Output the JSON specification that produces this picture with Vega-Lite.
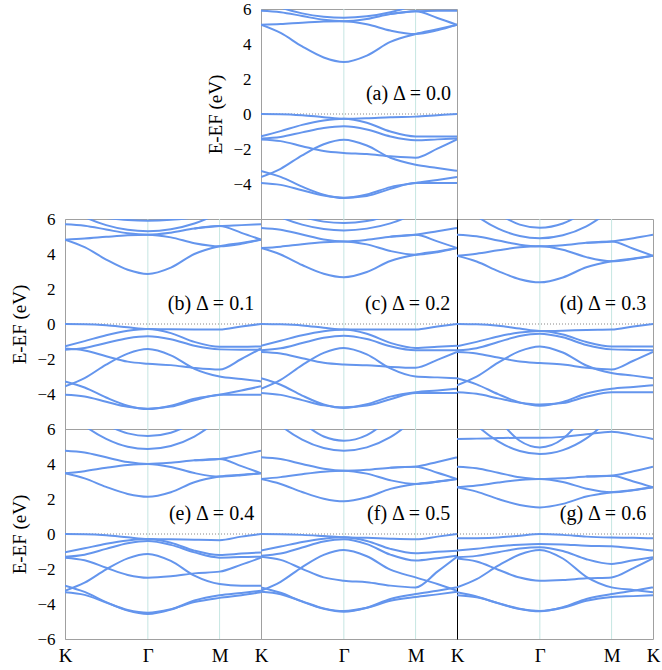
{
"$schema":"https://vega.github.io/schema/vega-lite/v6.json",
"padding":{"left":10,"top":-1,"right":5,"bottom":5},
"background":"white",
"config":{"view":{"stroke":"#a0a0a0","strokeWidth":1}},
"datasets":{
"a":[
{"b":"C1","k":0,"e":5.1},{"b":"C1","k":0.1,"e":4.63},{"b":"C1","k":0.21,"e":3.86},{"b":"C1","k":0.32,"e":3.23},{"b":"C1","k":0.4227,"e":2.97},{"b":"C1","k":0.54,"e":3.34},{"b":"C1","k":0.66,"e":4.12},{"b":"C1","k":0.7887,"e":4.57},{"b":"C1","k":0.9,"e":4.84},{"b":"C1","k":1,"e":5.1},
{"b":"C2","k":0,"e":5.1},{"b":"C2","k":0.1,"e":5.14},{"b":"C2","k":0.21,"e":5.22},{"b":"C2","k":0.32,"e":5.28},{"b":"C2","k":0.4227,"e":5.3},{"b":"C2","k":0.54,"e":5.13},{"b":"C2","k":0.66,"e":4.77},{"b":"C2","k":0.7887,"e":4.57},{"b":"C2","k":0.9,"e":4.78},{"b":"C2","k":1,"e":5.1},
{"b":"C3","k":0,"e":5.9},{"b":"C3","k":0.1,"e":5.82},{"b":"C3","k":0.21,"e":5.6},{"b":"C3","k":0.32,"e":5.38},{"b":"C3","k":0.4227,"e":5.3},{"b":"C3","k":0.54,"e":5.43},{"b":"C3","k":0.66,"e":5.71},{"b":"C3","k":0.7887,"e":5.87},{"b":"C3","k":0.9,"e":5.49},{"b":"C3","k":1,"e":5.1},
{"b":"C4","k":0,"e":6.5},{"b":"C4","k":0.1,"e":6.08},{"b":"C4","k":0.21,"e":5.75},{"b":"C4","k":0.32,"e":5.56},{"b":"C4","k":0.4227,"e":5.5},{"b":"C4","k":0.54,"e":5.58},{"b":"C4","k":0.66,"e":5.81},{"b":"C4","k":0.7887,"e":6.24},
{"b":"C5","k":0.66,"e":5.71},{"b":"C5","k":0.7887,"e":5.87},{"b":"C5","k":0.9,"e":5.9},{"b":"C5","k":1,"e":5.9},
{"b":"V1","k":0,"e":0},{"b":"V1","k":0.1,"e":-0.01},{"b":"V1","k":0.21,"e":-0.07},{"b":"V1","k":0.32,"e":-0.18},{"b":"V1","k":0.4227,"e":-0.27},{"b":"V1","k":0.54,"e":-0.24},{"b":"V1","k":0.66,"e":-0.18},{"b":"V1","k":0.7887,"e":-0.15},{"b":"V1","k":0.9,"e":-0.07},{"b":"V1","k":1,"e":0},
{"b":"V2","k":0,"e":-1.28},{"b":"V2","k":0.1,"e":-0.98},{"b":"V2","k":0.21,"e":-0.62},{"b":"V2","k":0.32,"e":-0.37},{"b":"V2","k":0.4227,"e":-0.27},{"b":"V2","k":0.54,"e":-0.5},{"b":"V2","k":0.66,"e":-1.0},{"b":"V2","k":0.7887,"e":-1.28},{"b":"V2","k":0.9,"e":-1.28},{"b":"V2","k":1,"e":-1.28},
{"b":"V3","k":0,"e":-1.4},{"b":"V3","k":0.1,"e":-1.31},{"b":"V3","k":0.21,"e":-1.05},{"b":"V3","k":0.32,"e":-0.8},{"b":"V3","k":0.4227,"e":-0.7},{"b":"V3","k":0.54,"e":-0.88},{"b":"V3","k":0.66,"e":-1.28},{"b":"V3","k":0.7887,"e":-1.5},{"b":"V3","k":0.9,"e":-1.45},{"b":"V3","k":1,"e":-1.4},
{"b":"V4","k":0,"e":-1.45},{"b":"V4","k":0.1,"e":-1.55},{"b":"V4","k":0.21,"e":-1.84},{"b":"V4","k":0.32,"e":-2.12},{"b":"V4","k":0.4227,"e":-2.23},{"b":"V4","k":0.54,"e":-2.29},{"b":"V4","k":0.66,"e":-2.42},{"b":"V4","k":0.7887,"e":-2.5},{"b":"V4","k":0.9,"e":-1.98},{"b":"V4","k":1,"e":-1.45},
{"b":"V5","k":0,"e":-3.6},{"b":"V5","k":0.1,"e":-3.13},{"b":"V5","k":0.21,"e":-2.36},{"b":"V5","k":0.32,"e":-1.73},{"b":"V5","k":0.4227,"e":-1.47},{"b":"V5","k":0.54,"e":-1.8},{"b":"V5","k":0.66,"e":-2.5},{"b":"V5","k":0.7887,"e":-2.9},{"b":"V5","k":0.9,"e":-3.08},{"b":"V5","k":1,"e":-3.25},
{"b":"V6","k":0,"e":-3.25},{"b":"V6","k":0.1,"e":-3.59},{"b":"V6","k":0.21,"e":-4.15},{"b":"V6","k":0.32,"e":-4.61},{"b":"V6","k":0.4227,"e":-4.8},{"b":"V6","k":0.54,"e":-4.6},{"b":"V6","k":0.66,"e":-4.18},{"b":"V6","k":0.7887,"e":-3.94},{"b":"V6","k":0.9,"e":-3.77},{"b":"V6","k":1,"e":-3.6},
{"b":"V7","k":0,"e":-3.94},{"b":"V7","k":0.1,"e":-4.05},{"b":"V7","k":0.21,"e":-4.36},{"b":"V7","k":0.32,"e":-4.66},{"b":"V7","k":0.4227,"e":-4.78},{"b":"V7","k":0.54,"e":-4.68},{"b":"V7","k":0.66,"e":-4.28},{"b":"V7","k":0.7887,"e":-3.94},{"b":"V7","k":0.9,"e":-3.94},{"b":"V7","k":1,"e":-3.94}
],
"b":[
{"b":"C1","k":0,"e":4.82},{"b":"C1","k":0.1,"e":4.39},{"b":"C1","k":0.21,"e":3.68},{"b":"C1","k":0.32,"e":3.1},{"b":"C1","k":0.4227,"e":2.86},{"b":"C1","k":0.54,"e":3.22},{"b":"C1","k":0.66,"e":4.0},{"b":"C1","k":0.7887,"e":4.44},{"b":"C1","k":0.9,"e":4.63},{"b":"C1","k":1,"e":4.82},
{"b":"C2","k":0,"e":4.82},{"b":"C2","k":0.1,"e":4.88},{"b":"C2","k":0.21,"e":4.98},{"b":"C2","k":0.32,"e":5.07},{"b":"C2","k":0.4227,"e":5.1},{"b":"C2","k":0.54,"e":4.95},{"b":"C2","k":0.66,"e":4.62},{"b":"C2","k":0.7887,"e":4.44},{"b":"C2","k":0.9,"e":4.58},{"b":"C2","k":1,"e":4.82},
{"b":"C3","k":0,"e":5.7},{"b":"C3","k":0.1,"e":5.62},{"b":"C3","k":0.21,"e":5.4},{"b":"C3","k":0.32,"e":5.18},{"b":"C3","k":0.4227,"e":5.1},{"b":"C3","k":0.54,"e":5.22},{"b":"C3","k":0.66,"e":5.46},{"b":"C3","k":0.7887,"e":5.6},{"b":"C3","k":0.9,"e":5.21},{"b":"C3","k":1,"e":4.82},
{"b":"C4","k":0,"e":6.69},{"b":"C4","k":0.1,"e":6.11},{"b":"C4","k":0.21,"e":5.65},{"b":"C4","k":0.32,"e":5.38},{"b":"C4","k":0.4227,"e":5.3},{"b":"C4","k":0.54,"e":5.41},{"b":"C4","k":0.66,"e":5.74},{"b":"C4","k":0.7887,"e":6.34},
{"b":"C5","k":0.66,"e":5.46},{"b":"C5","k":0.7887,"e":5.6},{"b":"C5","k":0.9,"e":5.65},{"b":"C5","k":1,"e":5.7},
{"b":"C6","k":0.21,"e":6.06},{"b":"C6","k":0.32,"e":5.94},{"b":"C6","k":0.4227,"e":5.9},{"b":"C6","k":0.54,"e":5.95},{"b":"C6","k":0.66,"e":6.09},
{"b":"V1","k":0,"e":0},{"b":"V1","k":0.1,"e":-0.01},{"b":"V1","k":0.21,"e":-0.07},{"b":"V1","k":0.32,"e":-0.19},{"b":"V1","k":0.4227,"e":-0.29},{"b":"V1","k":0.54,"e":-0.3},{"b":"V1","k":0.66,"e":-0.31},{"b":"V1","k":0.7887,"e":-0.32},{"b":"V1","k":0.9,"e":-0.14},{"b":"V1","k":1,"e":0},
{"b":"V2","k":0,"e":-1.28},{"b":"V2","k":0.1,"e":-0.98},{"b":"V2","k":0.21,"e":-0.64},{"b":"V2","k":0.32,"e":-0.39},{"b":"V2","k":0.4227,"e":-0.29},{"b":"V2","k":0.54,"e":-0.52},{"b":"V2","k":0.66,"e":-1.02},{"b":"V2","k":0.7887,"e":-1.3},{"b":"V2","k":0.9,"e":-1.3},{"b":"V2","k":1,"e":-1.28},
{"b":"V3","k":0,"e":-1.47},{"b":"V3","k":0.1,"e":-1.37},{"b":"V3","k":0.21,"e":-1.09},{"b":"V3","k":0.32,"e":-0.81},{"b":"V3","k":0.4227,"e":-0.7},{"b":"V3","k":0.54,"e":-0.87},{"b":"V3","k":0.66,"e":-1.24},{"b":"V3","k":0.7887,"e":-1.45},{"b":"V3","k":0.9,"e":-1.47},{"b":"V3","k":1,"e":-1.47},
{"b":"V4","k":0,"e":-1.4},{"b":"V4","k":0.1,"e":-1.51},{"b":"V4","k":0.21,"e":-1.84},{"b":"V4","k":0.32,"e":-2.15},{"b":"V4","k":0.4227,"e":-2.27},{"b":"V4","k":0.54,"e":-2.35},{"b":"V4","k":0.66,"e":-2.51},{"b":"V4","k":0.7887,"e":-2.6},{"b":"V4","k":0.9,"e":-2.0},{"b":"V4","k":1,"e":-1.4},
{"b":"V5","k":0,"e":-3.56},{"b":"V5","k":0.1,"e":-3.09},{"b":"V5","k":0.21,"e":-2.32},{"b":"V5","k":0.32,"e":-1.69},{"b":"V5","k":0.4227,"e":-1.43},{"b":"V5","k":0.54,"e":-1.79},{"b":"V5","k":0.66,"e":-2.56},{"b":"V5","k":0.7887,"e":-3.0},{"b":"V5","k":0.9,"e":-3.14},{"b":"V5","k":1,"e":-3.28},
{"b":"V6","k":0,"e":-3.28},{"b":"V6","k":0.1,"e":-3.63},{"b":"V6","k":0.21,"e":-4.2},{"b":"V6","k":0.32,"e":-4.67},{"b":"V6","k":0.4227,"e":-4.86},{"b":"V6","k":0.54,"e":-4.67},{"b":"V6","k":0.66,"e":-4.27},{"b":"V6","k":0.7887,"e":-4.04},{"b":"V6","k":0.9,"e":-3.8},{"b":"V6","k":1,"e":-3.56},
{"b":"V7","k":0,"e":-4.04},{"b":"V7","k":0.1,"e":-4.14},{"b":"V7","k":0.21,"e":-4.44},{"b":"V7","k":0.32,"e":-4.73},{"b":"V7","k":0.4227,"e":-4.84},{"b":"V7","k":0.54,"e":-4.72},{"b":"V7","k":0.66,"e":-4.36},{"b":"V7","k":0.7887,"e":-4.04},{"b":"V7","k":0.9,"e":-4.04},{"b":"V7","k":1,"e":-4.04}
],
"c":[
{"b":"C1","k":0,"e":4.34},{"b":"C1","k":0.1,"e":3.97},{"b":"C1","k":0.21,"e":3.37},{"b":"C1","k":0.32,"e":2.87},{"b":"C1","k":0.4227,"e":2.67},{"b":"C1","k":0.54,"e":2.97},{"b":"C1","k":0.66,"e":3.6},{"b":"C1","k":0.7887,"e":3.96},{"b":"C1","k":0.9,"e":4.15},{"b":"C1","k":1,"e":4.34},
{"b":"C2","k":0,"e":4.34},{"b":"C2","k":0.1,"e":4.42},{"b":"C2","k":0.21,"e":4.56},{"b":"C2","k":0.32,"e":4.67},{"b":"C2","k":0.4227,"e":4.72},{"b":"C2","k":0.54,"e":4.55},{"b":"C2","k":0.66,"e":4.17},{"b":"C2","k":0.7887,"e":3.96},{"b":"C2","k":0.9,"e":4.1},{"b":"C2","k":1,"e":4.34},
{"b":"C3","k":0,"e":5.49},{"b":"C3","k":0.1,"e":5.39},{"b":"C3","k":0.21,"e":5.11},{"b":"C3","k":0.32,"e":4.83},{"b":"C3","k":0.4227,"e":4.72},{"b":"C3","k":0.54,"e":4.81},{"b":"C3","k":0.66,"e":4.99},{"b":"C3","k":0.7887,"e":5.1},{"b":"C3","k":0.9,"e":4.72},{"b":"C3","k":1,"e":4.34},
{"b":"C4","k":0,"e":6.64},{"b":"C4","k":0.1,"e":6.1},{"b":"C4","k":0.21,"e":5.68},{"b":"C4","k":0.32,"e":5.43},{"b":"C4","k":0.4227,"e":5.35},{"b":"C4","k":0.54,"e":5.45},{"b":"C4","k":0.66,"e":5.75},{"b":"C4","k":0.7887,"e":6.32},
{"b":"C5","k":0.66,"e":4.99},{"b":"C5","k":0.7887,"e":5.1},{"b":"C5","k":0.9,"e":5.3},{"b":"C5","k":1,"e":5.49},
{"b":"C6","k":0.21,"e":6.13},{"b":"C6","k":0.32,"e":5.85},{"b":"C6","k":0.4227,"e":5.77},{"b":"C6","k":0.54,"e":5.88},{"b":"C6","k":0.66,"e":6.21},
{"b":"V1","k":0,"e":0},{"b":"V1","k":0.1,"e":-0.02},{"b":"V1","k":0.21,"e":-0.08},{"b":"V1","k":0.32,"e":-0.21},{"b":"V1","k":0.4227,"e":-0.32},{"b":"V1","k":0.54,"e":-0.32},{"b":"V1","k":0.66,"e":-0.32},{"b":"V1","k":0.7887,"e":-0.32},{"b":"V1","k":0.9,"e":-0.14},{"b":"V1","k":1,"e":0},
{"b":"V2","k":0,"e":-1.24},{"b":"V2","k":0.1,"e":-0.96},{"b":"V2","k":0.21,"e":-0.64},{"b":"V2","k":0.32,"e":-0.41},{"b":"V2","k":0.4227,"e":-0.32},{"b":"V2","k":0.54,"e":-0.56},{"b":"V2","k":0.66,"e":-1.08},{"b":"V2","k":0.7887,"e":-1.37},{"b":"V2","k":0.9,"e":-1.3},{"b":"V2","k":1,"e":-1.24},
{"b":"V3","k":0,"e":-1.5},{"b":"V3","k":0.1,"e":-1.39},{"b":"V3","k":0.21,"e":-1.09},{"b":"V3","k":0.32,"e":-0.79},{"b":"V3","k":0.4227,"e":-0.67},{"b":"V3","k":0.54,"e":-0.86},{"b":"V3","k":0.66,"e":-1.27},{"b":"V3","k":0.7887,"e":-1.5},{"b":"V3","k":0.9,"e":-1.5},{"b":"V3","k":1,"e":-1.5},
{"b":"V4","k":0,"e":-1.6},{"b":"V4","k":0.1,"e":-1.69},{"b":"V4","k":0.21,"e":-1.96},{"b":"V4","k":0.32,"e":-2.22},{"b":"V4","k":0.4227,"e":-2.32},{"b":"V4","k":0.54,"e":-2.36},{"b":"V4","k":0.66,"e":-2.45},{"b":"V4","k":0.7887,"e":-2.5},{"b":"V4","k":0.9,"e":-2.05},{"b":"V4","k":1,"e":-1.6},
{"b":"V5","k":0,"e":-3.7},{"b":"V5","k":0.1,"e":-3.19},{"b":"V5","k":0.21,"e":-2.35},{"b":"V5","k":0.32,"e":-1.65},{"b":"V5","k":0.4227,"e":-1.37},{"b":"V5","k":0.54,"e":-1.74},{"b":"V5","k":0.66,"e":-2.54},{"b":"V5","k":0.7887,"e":-3.0},{"b":"V5","k":0.9,"e":-3.05},{"b":"V5","k":1,"e":-3.1},
{"b":"V6","k":0,"e":-3.1},{"b":"V6","k":0.1,"e":-3.47},{"b":"V6","k":0.21,"e":-4.09},{"b":"V6","k":0.32,"e":-4.6},{"b":"V6","k":0.4227,"e":-4.8},{"b":"V6","k":0.54,"e":-4.59},{"b":"V6","k":0.66,"e":-4.15},{"b":"V6","k":0.7887,"e":-3.9},{"b":"V6","k":0.9,"e":-3.8},{"b":"V6","k":1,"e":-3.7},
{"b":"V7","k":0,"e":-3.94},{"b":"V7","k":0.1,"e":-4.05},{"b":"V7","k":0.21,"e":-4.35},{"b":"V7","k":0.32,"e":-4.65},{"b":"V7","k":0.4227,"e":-4.76},{"b":"V7","k":0.54,"e":-4.66},{"b":"V7","k":0.66,"e":-4.3},{"b":"V7","k":0.7887,"e":-3.94},{"b":"V7","k":0.9,"e":-3.94},{"b":"V7","k":1,"e":-3.94}
],
"d":[
{"b":"C1","k":0,"e":3.9},{"b":"C1","k":0.1,"e":3.57},{"b":"C1","k":0.21,"e":3.02},{"b":"C1","k":0.32,"e":2.56},{"b":"C1","k":0.4227,"e":2.38},{"b":"C1","k":0.54,"e":2.66},{"b":"C1","k":0.66,"e":3.24},{"b":"C1","k":0.7887,"e":3.58},{"b":"C1","k":0.9,"e":3.74},{"b":"C1","k":1,"e":3.9},
{"b":"C2","k":0,"e":3.9},{"b":"C2","k":0.1,"e":4.02},{"b":"C2","k":0.21,"e":4.21},{"b":"C2","k":0.32,"e":4.38},{"b":"C2","k":0.4227,"e":4.44},{"b":"C2","k":0.54,"e":4.24},{"b":"C2","k":0.66,"e":3.82},{"b":"C2","k":0.7887,"e":3.58},{"b":"C2","k":0.9,"e":3.72},{"b":"C2","k":1,"e":3.9},
{"b":"C3","k":0,"e":5.1},{"b":"C3","k":0.1,"e":5.01},{"b":"C3","k":0.21,"e":4.77},{"b":"C3","k":0.32,"e":4.53},{"b":"C3","k":0.4227,"e":4.44},{"b":"C3","k":0.54,"e":4.5},{"b":"C3","k":0.66,"e":4.64},{"b":"C3","k":0.7887,"e":4.72},{"b":"C3","k":0.9,"e":4.3},{"b":"C3","k":1,"e":3.9},
{"b":"C4","k":0,"e":7.08},{"b":"C4","k":0.1,"e":6.17},{"b":"C4","k":0.21,"e":5.45},{"b":"C4","k":0.32,"e":5.03},{"b":"C4","k":0.4227,"e":4.9},{"b":"C4","k":0.54,"e":5.07},{"b":"C4","k":0.66,"e":5.58},{"b":"C4","k":0.7887,"e":6.54},
{"b":"C5","k":0.66,"e":4.64},{"b":"C5","k":0.7887,"e":4.72},{"b":"C5","k":0.9,"e":4.9},{"b":"C5","k":1,"e":5.1},
{"b":"C6","k":0.21,"e":6.28},{"b":"C6","k":0.32,"e":5.68},{"b":"C6","k":0.4227,"e":5.5},{"b":"C6","k":0.54,"e":5.74},{"b":"C6","k":0.66,"e":6.46},
{"b":"V1","k":0,"e":0},{"b":"V1","k":0.1,"e":-0.02},{"b":"V1","k":0.21,"e":-0.1},{"b":"V1","k":0.32,"e":-0.26},{"b":"V1","k":0.4227,"e":-0.4},{"b":"V1","k":0.54,"e":-0.38},{"b":"V1","k":0.66,"e":-0.34},{"b":"V1","k":0.7887,"e":-0.32},{"b":"V1","k":0.9,"e":-0.14},{"b":"V1","k":1,"e":0},
{"b":"V2","k":0,"e":-1.28},{"b":"V2","k":0.1,"e":-1.02},{"b":"V2","k":0.21,"e":-0.71},{"b":"V2","k":0.32,"e":-0.49},{"b":"V2","k":0.4227,"e":-0.4},{"b":"V2","k":0.54,"e":-0.6},{"b":"V2","k":0.66,"e":-1.03},{"b":"V2","k":0.7887,"e":-1.28},{"b":"V2","k":0.9,"e":-1.28},{"b":"V2","k":1,"e":-1.28},
{"b":"V3","k":0,"e":-1.5},{"b":"V3","k":0.1,"e":-1.38},{"b":"V3","k":0.21,"e":-1.03},{"b":"V3","k":0.32,"e":-0.68},{"b":"V3","k":0.4227,"e":-0.55},{"b":"V3","k":0.54,"e":-0.76},{"b":"V3","k":0.66,"e":-1.2},{"b":"V3","k":0.7887,"e":-1.45},{"b":"V3","k":0.9,"e":-1.48},{"b":"V3","k":1,"e":-1.5},
{"b":"V4","k":0,"e":-1.6},{"b":"V4","k":0.1,"e":-1.68},{"b":"V4","k":0.21,"e":-1.92},{"b":"V4","k":0.32,"e":-2.14},{"b":"V4","k":0.4227,"e":-2.23},{"b":"V4","k":0.54,"e":-2.32},{"b":"V4","k":0.66,"e":-2.5},{"b":"V4","k":0.7887,"e":-2.6},{"b":"V4","k":0.9,"e":-2.1},{"b":"V4","k":1,"e":-1.6},
{"b":"V5","k":0,"e":-3.5},{"b":"V5","k":0.1,"e":-3.01},{"b":"V5","k":0.21,"e":-2.21},{"b":"V5","k":0.32,"e":-1.55},{"b":"V5","k":0.4227,"e":-1.28},{"b":"V5","k":0.54,"e":-1.63},{"b":"V5","k":0.66,"e":-2.37},{"b":"V5","k":0.7887,"e":-2.8},{"b":"V5","k":0.9,"e":-2.95},{"b":"V5","k":1,"e":-3.1},
{"b":"V6","k":0,"e":-3.1},{"b":"V6","k":0.1,"e":-3.45},{"b":"V6","k":0.21,"e":-4.01},{"b":"V6","k":0.32,"e":-4.48},{"b":"V6","k":0.4227,"e":-4.67},{"b":"V6","k":0.54,"e":-4.45},{"b":"V6","k":0.66,"e":-3.97},{"b":"V6","k":0.7887,"e":-3.7},{"b":"V6","k":0.9,"e":-3.6},{"b":"V6","k":1,"e":-3.5},
{"b":"V7","k":0,"e":-3.9},{"b":"V7","k":0.1,"e":-3.99},{"b":"V7","k":0.21,"e":-4.25},{"b":"V7","k":0.32,"e":-4.5},{"b":"V7","k":0.4227,"e":-4.6},{"b":"V7","k":0.54,"e":-4.52},{"b":"V7","k":0.66,"e":-4.16},{"b":"V7","k":0.7887,"e":-3.9},{"b":"V7","k":0.9,"e":-3.9},{"b":"V7","k":1,"e":-3.9}
],
"e":[
{"b":"C1","k":0,"e":3.47},{"b":"C1","k":0.1,"e":3.18},{"b":"C1","k":0.21,"e":2.69},{"b":"C1","k":0.32,"e":2.29},{"b":"C1","k":0.4227,"e":2.13},{"b":"C1","k":0.54,"e":2.39},{"b":"C1","k":0.66,"e":2.96},{"b":"C1","k":0.7887,"e":3.28},{"b":"C1","k":0.9,"e":3.38},{"b":"C1","k":1,"e":3.47},
{"b":"C2","k":0,"e":3.47},{"b":"C2","k":0.1,"e":3.59},{"b":"C2","k":0.21,"e":3.78},{"b":"C2","k":0.32,"e":3.94},{"b":"C2","k":0.4227,"e":4.0},{"b":"C2","k":0.54,"e":3.83},{"b":"C2","k":0.66,"e":3.48},{"b":"C2","k":0.7887,"e":3.28},{"b":"C2","k":0.9,"e":3.36},{"b":"C2","k":1,"e":3.47},
{"b":"C3","k":0,"e":4.76},{"b":"C3","k":0.1,"e":4.66},{"b":"C3","k":0.21,"e":4.38},{"b":"C3","k":0.32,"e":4.11},{"b":"C3","k":0.4227,"e":4.0},{"b":"C3","k":0.54,"e":4.07},{"b":"C3","k":0.66,"e":4.21},{"b":"C3","k":0.7887,"e":4.29},{"b":"C3","k":0.9,"e":3.88},{"b":"C3","k":1,"e":3.47},
{"b":"C4","k":0,"e":7.13},{"b":"C4","k":0.1,"e":6.18},{"b":"C4","k":0.21,"e":5.44},{"b":"C4","k":0.32,"e":4.99},{"b":"C4","k":0.4227,"e":4.86},{"b":"C4","k":0.54,"e":5.03},{"b":"C4","k":0.66,"e":5.57},{"b":"C4","k":0.7887,"e":6.56},
{"b":"C5","k":0.66,"e":4.21},{"b":"C5","k":0.7887,"e":4.29},{"b":"C5","k":0.9,"e":4.52},{"b":"C5","k":1,"e":4.76},
{"b":"C6","k":0.21,"e":6.23},{"b":"C6","k":0.32,"e":5.75},{"b":"C6","k":0.4227,"e":5.6},{"b":"C6","k":0.54,"e":5.79},{"b":"C6","k":0.66,"e":6.37},
{"b":"V1","k":0,"e":0},{"b":"V1","k":0.1,"e":-0.01},{"b":"V1","k":0.21,"e":-0.07},{"b":"V1","k":0.32,"e":-0.19},{"b":"V1","k":0.4227,"e":-0.29},{"b":"V1","k":0.54,"e":-0.3},{"b":"V1","k":0.66,"e":-0.33},{"b":"V1","k":0.7887,"e":-0.35},{"b":"V1","k":0.9,"e":-0.15},{"b":"V1","k":1,"e":0},
{"b":"V2","k":0,"e":-1.05},{"b":"V2","k":0.1,"e":-0.82},{"b":"V2","k":0.21,"e":-0.56},{"b":"V2","k":0.32,"e":-0.37},{"b":"V2","k":0.4227,"e":-0.29},{"b":"V2","k":0.54,"e":-0.5},{"b":"V2","k":0.66,"e":-0.95},{"b":"V2","k":0.7887,"e":-1.2},{"b":"V2","k":0.9,"e":-1.12},{"b":"V2","k":1,"e":-1.05},
{"b":"V3","k":0,"e":-1.3},{"b":"V3","k":0.1,"e":-1.18},{"b":"V3","k":0.21,"e":-0.85},{"b":"V3","k":0.32,"e":-0.53},{"b":"V3","k":0.4227,"e":-0.4},{"b":"V3","k":0.54,"e":-0.62},{"b":"V3","k":0.66,"e":-1.05},{"b":"V3","k":0.7887,"e":-1.35},{"b":"V3","k":0.9,"e":-1.32},{"b":"V3","k":1,"e":-1.3},
{"b":"V4","k":0,"e":-1.35},{"b":"V4","k":0.1,"e":-1.5},{"b":"V4","k":0.21,"e":-1.93},{"b":"V4","k":0.32,"e":-2.34},{"b":"V4","k":0.4227,"e":-2.5},{"b":"V4","k":0.54,"e":-2.42},{"b":"V4","k":0.66,"e":-2.25},{"b":"V4","k":0.7887,"e":-2.15},{"b":"V4","k":0.9,"e":-1.75},{"b":"V4","k":1,"e":-1.35},
{"b":"V5","k":0,"e":-3.24},{"b":"V5","k":0.1,"e":-2.78},{"b":"V5","k":0.21,"e":-2.02},{"b":"V5","k":0.32,"e":-1.39},{"b":"V5","k":0.4227,"e":-1.14},{"b":"V5","k":0.54,"e":-1.54},{"b":"V5","k":0.66,"e":-2.38},{"b":"V5","k":0.7887,"e":-2.86},{"b":"V5","k":0.9,"e":-2.95},{"b":"V5","k":1,"e":-2.95},
{"b":"V6","k":0,"e":-2.95},{"b":"V6","k":0.1,"e":-3.31},{"b":"V6","k":0.21,"e":-3.89},{"b":"V6","k":0.32,"e":-4.38},{"b":"V6","k":0.4227,"e":-4.57},{"b":"V6","k":0.54,"e":-4.32},{"b":"V6","k":0.66,"e":-3.8},{"b":"V6","k":0.7887,"e":-3.5},{"b":"V6","k":0.9,"e":-3.37},{"b":"V6","k":1,"e":-3.24},
{"b":"V7","k":0,"e":-3.33},{"b":"V7","k":0.1,"e":-3.48},{"b":"V7","k":0.21,"e":-3.92},{"b":"V7","k":0.32,"e":-4.34},{"b":"V7","k":0.4227,"e":-4.5},{"b":"V7","k":0.54,"e":-4.3},{"b":"V7","k":0.66,"e":-3.89},{"b":"V7","k":0.7887,"e":-3.65},{"b":"V7","k":0.9,"e":-3.5},{"b":"V7","k":1,"e":-3.33}
],
"f":[
{"b":"C1","k":0,"e":3.14},{"b":"C1","k":0.1,"e":2.86},{"b":"C1","k":0.21,"e":2.4},{"b":"C1","k":0.32,"e":2.02},{"b":"C1","k":0.4227,"e":1.87},{"b":"C1","k":0.54,"e":2.1},{"b":"C1","k":0.66,"e":2.58},{"b":"C1","k":0.7887,"e":2.86},{"b":"C1","k":0.9,"e":3.0},{"b":"C1","k":1,"e":3.14},
{"b":"C2","k":0,"e":3.14},{"b":"C2","k":0.1,"e":3.25},{"b":"C2","k":0.21,"e":3.42},{"b":"C2","k":0.32,"e":3.56},{"b":"C2","k":0.4227,"e":3.62},{"b":"C2","k":0.54,"e":3.45},{"b":"C2","k":0.66,"e":3.07},{"b":"C2","k":0.7887,"e":2.86},{"b":"C2","k":0.9,"e":2.98},{"b":"C2","k":1,"e":3.14},
{"b":"C3","k":0,"e":4.38},{"b":"C3","k":0.1,"e":4.28},{"b":"C3","k":0.21,"e":4.0},{"b":"C3","k":0.32,"e":3.73},{"b":"C3","k":0.4227,"e":3.62},{"b":"C3","k":0.54,"e":3.67},{"b":"C3","k":0.66,"e":3.79},{"b":"C3","k":0.7887,"e":3.85},{"b":"C3","k":0.9,"e":3.5},{"b":"C3","k":1,"e":3.14},
{"b":"C4","k":0,"e":7.23},{"b":"C4","k":0.1,"e":6.2},{"b":"C4","k":0.21,"e":5.39},{"b":"C4","k":0.32,"e":4.91},{"b":"C4","k":0.4227,"e":4.76},{"b":"C4","k":0.54,"e":4.95},{"b":"C4","k":0.66,"e":5.53},{"b":"C4","k":0.7887,"e":6.61},
{"b":"C5","k":0.66,"e":3.79},{"b":"C5","k":0.7887,"e":3.85},{"b":"C5","k":0.9,"e":4.12},{"b":"C5","k":1,"e":4.38},
{"b":"C6","k":0.21,"e":6.37},{"b":"C6","k":0.32,"e":5.57},{"b":"C6","k":0.4227,"e":5.33},{"b":"C6","k":0.54,"e":5.65},{"b":"C6","k":0.66,"e":6.62},
{"b":"V1","k":0,"e":0},{"b":"V1","k":0.1,"e":-0.01},{"b":"V1","k":0.21,"e":-0.05},{"b":"V1","k":0.32,"e":-0.12},{"b":"V1","k":0.4227,"e":-0.19},{"b":"V1","k":0.54,"e":-0.22},{"b":"V1","k":0.66,"e":-0.27},{"b":"V1","k":0.7887,"e":-0.3},{"b":"V1","k":0.9,"e":-0.15},{"b":"V1","k":1,"e":0},
{"b":"V2","k":0,"e":-0.95},{"b":"V2","k":0.1,"e":-0.72},{"b":"V2","k":0.21,"e":-0.46},{"b":"V2","k":0.32,"e":-0.27},{"b":"V2","k":0.4227,"e":-0.19},{"b":"V2","k":0.54,"e":-0.4},{"b":"V2","k":0.66,"e":-0.85},{"b":"V2","k":0.7887,"e":-1.1},{"b":"V2","k":0.9,"e":-1.02},{"b":"V2","k":1,"e":-0.95},
{"b":"V3","k":0,"e":-1.24},{"b":"V3","k":0.1,"e":-1.12},{"b":"V3","k":0.21,"e":-0.77},{"b":"V3","k":0.32,"e":-0.43},{"b":"V3","k":0.4227,"e":-0.3},{"b":"V3","k":0.54,"e":-0.58},{"b":"V3","k":0.66,"e":-1.18},{"b":"V3","k":0.7887,"e":-1.52},{"b":"V3","k":0.9,"e":-1.38},{"b":"V3","k":1,"e":-1.24},
{"b":"V4","k":0,"e":-1.3},{"b":"V4","k":0.1,"e":-1.48},{"b":"V4","k":0.21,"e":-1.99},{"b":"V4","k":0.32,"e":-2.48},{"b":"V4","k":0.4227,"e":-2.67},{"b":"V4","k":0.54,"e":-2.76},{"b":"V4","k":0.66,"e":-2.95},{"b":"V4","k":0.7887,"e":-3.05},{"b":"V4","k":0.9,"e":-2.15},{"b":"V4","k":1,"e":-1.3},
{"b":"V5","k":0,"e":-3.24},{"b":"V5","k":0.1,"e":-2.73},{"b":"V5","k":0.21,"e":-1.89},{"b":"V5","k":0.32,"e":-1.19},{"b":"V5","k":0.4227,"e":-0.91},{"b":"V5","k":0.54,"e":-1.27},{"b":"V5","k":0.66,"e":-2.04},{"b":"V5","k":0.7887,"e":-2.48},{"b":"V5","k":0.9,"e":-2.86},{"b":"V5","k":1,"e":-3.24},
{"b":"V6","k":0,"e":-3.05},{"b":"V6","k":0.1,"e":-3.36},{"b":"V6","k":0.21,"e":-3.86},{"b":"V6","k":0.32,"e":-4.27},{"b":"V6","k":0.4227,"e":-4.44},{"b":"V6","k":0.54,"e":-4.21},{"b":"V6","k":0.66,"e":-3.71},{"b":"V6","k":0.7887,"e":-3.43},{"b":"V6","k":0.9,"e":-3.24},{"b":"V6","k":1,"e":-3.05},
{"b":"V7","k":0,"e":-3.3},{"b":"V7","k":0.1,"e":-3.44},{"b":"V7","k":0.21,"e":-3.85},{"b":"V7","k":0.32,"e":-4.25},{"b":"V7","k":0.4227,"e":-4.4},{"b":"V7","k":0.54,"e":-4.22},{"b":"V7","k":0.66,"e":-3.82},{"b":"V7","k":0.7887,"e":-3.6},{"b":"V7","k":0.9,"e":-3.45},{"b":"V7","k":1,"e":-3.3}
],
"g":[
{"b":"C1","k":0,"e":2.67},{"b":"C1","k":0.1,"e":2.42},{"b":"C1","k":0.21,"e":2.0},{"b":"C1","k":0.32,"e":1.66},{"b":"C1","k":0.4227,"e":1.52},{"b":"C1","k":0.54,"e":1.72},{"b":"C1","k":0.66,"e":2.14},{"b":"C1","k":0.7887,"e":2.38},{"b":"C1","k":0.9,"e":2.52},{"b":"C1","k":1,"e":2.67},
{"b":"C2","k":0,"e":2.67},{"b":"C2","k":0.1,"e":2.77},{"b":"C2","k":0.21,"e":2.94},{"b":"C2","k":0.32,"e":3.08},{"b":"C2","k":0.4227,"e":3.14},{"b":"C2","k":0.54,"e":2.97},{"b":"C2","k":0.66,"e":2.59},{"b":"C2","k":0.7887,"e":2.38},{"b":"C2","k":0.9,"e":2.5},{"b":"C2","k":1,"e":2.67},
{"b":"C3","k":0,"e":3.85},{"b":"C3","k":0.1,"e":3.76},{"b":"C3","k":0.21,"e":3.5},{"b":"C3","k":0.32,"e":3.24},{"b":"C3","k":0.4227,"e":3.14},{"b":"C3","k":0.54,"e":3.18},{"b":"C3","k":0.66,"e":3.28},{"b":"C3","k":0.7887,"e":3.33},{"b":"C3","k":0.9,"e":3.0},{"b":"C3","k":1,"e":2.67},
{"b":"C4","k":0,"e":7.42},{"b":"C4","k":0.1,"e":6.22},{"b":"C4","k":0.21,"e":5.29},{"b":"C4","k":0.32,"e":4.74},{"b":"C4","k":0.4227,"e":4.57},{"b":"C4","k":0.54,"e":4.79},{"b":"C4","k":0.66,"e":5.46},{"b":"C4","k":0.7887,"e":6.7},
{"b":"C5","k":0.66,"e":3.28},{"b":"C5","k":0.7887,"e":3.33},{"b":"C5","k":0.9,"e":3.59},{"b":"C5","k":1,"e":3.85},
{"b":"C6","k":0.21,"e":6.58},{"b":"C6","k":0.32,"e":5.33},{"b":"C6","k":0.4227,"e":4.95},{"b":"C6","k":0.54,"e":5.44},{"b":"C6","k":0.66,"e":6.95},
{"b":"C7","k":0,"e":5.43},{"b":"C7","k":0.1,"e":5.45},{"b":"C7","k":0.21,"e":5.48},{"b":"C7","k":0.32,"e":5.5},{"b":"C7","k":0.4227,"e":5.5},{"b":"C7","k":0.54,"e":5.55},{"b":"C7","k":0.66,"e":5.7},{"b":"C7","k":0.7887,"e":5.85},{"b":"C7","k":0.9,"e":5.65},{"b":"C7","k":1,"e":5.43},
{"b":"V1","k":0,"e":-0.25},{"b":"V1","k":0.1,"e":-0.24},{"b":"V1","k":0.21,"e":-0.2},{"b":"V1","k":0.32,"e":-0.1},{"b":"V1","k":0.4227,"e":0},{"b":"V1","k":0.54,"e":-0.05},{"b":"V1","k":0.66,"e":-0.15},{"b":"V1","k":0.7887,"e":-0.2},{"b":"V1","k":0.9,"e":-0.22},{"b":"V1","k":1,"e":-0.25},
{"b":"V2","k":0,"e":-0.95},{"b":"V2","k":0.1,"e":-0.84},{"b":"V2","k":0.21,"e":-0.7},{"b":"V2","k":0.32,"e":-0.61},{"b":"V2","k":0.4227,"e":-0.57},{"b":"V2","k":0.54,"e":-0.6},{"b":"V2","k":0.66,"e":-0.67},{"b":"V2","k":0.7887,"e":-0.7},{"b":"V2","k":0.9,"e":-0.82},{"b":"V2","k":1,"e":-0.95},
{"b":"V3","k":0,"e":-1.33},{"b":"V3","k":0.1,"e":-1.25},{"b":"V3","k":0.21,"e":-1.04},{"b":"V3","k":0.32,"e":-0.83},{"b":"V3","k":0.4227,"e":-0.75},{"b":"V3","k":0.54,"e":-0.97},{"b":"V3","k":0.66,"e":-1.44},{"b":"V3","k":0.7887,"e":-1.71},{"b":"V3","k":0.9,"e":-1.5},{"b":"V3","k":1,"e":-1.33},
{"b":"V4","k":0,"e":-1.4},{"b":"V4","k":0.1,"e":-1.57},{"b":"V4","k":0.21,"e":-2.04},{"b":"V4","k":0.32,"e":-2.49},{"b":"V4","k":0.4227,"e":-2.67},{"b":"V4","k":0.54,"e":-2.63},{"b":"V4","k":0.66,"e":-2.53},{"b":"V4","k":0.7887,"e":-2.48},{"b":"V4","k":0.9,"e":-1.95},{"b":"V4","k":1,"e":-1.4},
{"b":"V5","k":0,"e":-3.05},{"b":"V5","k":0.1,"e":-2.58},{"b":"V5","k":0.21,"e":-1.81},{"b":"V5","k":0.32,"e":-1.17},{"b":"V5","k":0.4227,"e":-0.91},{"b":"V5","k":0.54,"e":-1.4},{"b":"V5","k":0.66,"e":-2.45},{"b":"V5","k":0.7887,"e":-3.05},{"b":"V5","k":0.9,"e":-3.2},{"b":"V5","k":1,"e":-3.33},
{"b":"V6","k":0,"e":-3.33},{"b":"V6","k":0.1,"e":-3.57},{"b":"V6","k":0.21,"e":-3.96},{"b":"V6","k":0.32,"e":-4.29},{"b":"V6","k":0.4227,"e":-4.42},{"b":"V6","k":0.54,"e":-4.19},{"b":"V6","k":0.66,"e":-3.71},{"b":"V6","k":0.7887,"e":-3.43},{"b":"V6","k":0.9,"e":-3.24},{"b":"V6","k":1,"e":-3.05},
{"b":"V7","k":0,"e":-3.5},{"b":"V7","k":0.1,"e":-3.62},{"b":"V7","k":0.21,"e":-3.95},{"b":"V7","k":0.32,"e":-4.27},{"b":"V7","k":0.4227,"e":-4.4},{"b":"V7","k":0.54,"e":-4.22},{"b":"V7","k":0.66,"e":-3.82},{"b":"V7","k":0.7887,"e":-3.6},{"b":"V7","k":0.9,"e":-3.55},{"b":"V7","k":1,"e":-3.5}
]
},
"columns":3,
"spacing":0,
"bounds":"flush",
"concat":[
{"width":196,"height":210,"view":{"stroke":null},"data":{"values":[{}]},"mark":{"type":"point","opacity":0},"encoding":{}},
{"width":196,"height":210,"encoding":{
  "x":{"field":"k","type":"quantitative","scale":{"domain":[0,1],"nice":false},"axis":null},
  "y":{"field":"e","type":"quantitative","scale":{"domain":[-6,6],"nice":false},"axis":{"values":[6,4,2,0,-2,-4],"title":"E-EF (eV)","grid":false,"ticks":false,"domainColor":"#a0a0a0","labelFont":"Liberation Serif","labelFontSize":17,"labelColor":"#000","labelPadding":10,"labelFlush":false,"labelOverlap":false,"labelBound":false,"titleFont":"Liberation Serif","titleFontSize":19,"titleFontWeight":"normal","titleColor":"#000","titlePadding":7}}},
 "layer":[
 {"data":{"values":[{"k":0.4227},{"k":0.7887}]},"mark":{"type":"rule","color":"#c6e6e2","strokeWidth":1},"encoding":{"y":null}},
 {"data":{"values":[{"e":0}]},"mark":{"type":"rule","color":"#888888","strokeDash":[1,2],"strokeWidth":1},"encoding":{"x":null}},
 {"data":{"name":"a"},"mark":{"type":"line","color":"#6495ED","strokeWidth":2,"interpolate":"monotone","clip":true},"encoding":{"detail":{"field":"b"}}},
 {"data":{"values":[{"k":0.97,"e":1.15,"t":"(a) Δ = 0.0"}]},"mark":{"type":"text","align":"right","baseline":"middle","font":"Liberation Serif","fontSize":20,"color":"#000"},"encoding":{"text":{"field":"t"}}}
]},
{"width":196,"height":210,"view":{"stroke":null},"data":{"values":[{}]},"mark":{"type":"point","opacity":0},"encoding":{}},
{"width":196,"height":210,"encoding":{
  "x":{"field":"k","type":"quantitative","scale":{"domain":[0,1],"nice":false},"axis":null},
  "y":{"field":"e","type":"quantitative","scale":{"domain":[-6,6],"nice":false},"axis":{"values":[6,4,2,0,-2,-4],"title":"E-EF (eV)","grid":false,"ticks":false,"domainColor":"#a0a0a0","labelFont":"Liberation Serif","labelFontSize":17,"labelColor":"#000","labelPadding":10,"labelFlush":false,"labelOverlap":false,"labelBound":false,"titleFont":"Liberation Serif","titleFontSize":19,"titleFontWeight":"normal","titleColor":"#000","titlePadding":7}}},
 "layer":[
 {"data":{"values":[{"k":0.4227},{"k":0.7887}]},"mark":{"type":"rule","color":"#c6e6e2","strokeWidth":1},"encoding":{"y":null}},
 {"data":{"values":[{"e":0}]},"mark":{"type":"rule","color":"#888888","strokeDash":[1,2],"strokeWidth":1},"encoding":{"x":null}},
 {"data":{"name":"b"},"mark":{"type":"line","color":"#6495ED","strokeWidth":2,"interpolate":"monotone","clip":true},"encoding":{"detail":{"field":"b"}}},
 {"data":{"values":[{"k":0.965,"e":1.15,"t":"(b) Δ = 0.1"}]},"mark":{"type":"text","align":"right","baseline":"middle","font":"Liberation Serif","fontSize":20,"color":"#000"},"encoding":{"text":{"field":"t"}}}
]},
{"width":196,"height":210,"encoding":{
  "x":{"field":"k","type":"quantitative","scale":{"domain":[0,1],"nice":false},"axis":null},
  "y":{"field":"e","type":"quantitative","scale":{"domain":[-6,6],"nice":false},"axis":null}},
 "layer":[
 {"data":{"values":[{"k":0.4227},{"k":0.7887}]},"mark":{"type":"rule","color":"#c6e6e2","strokeWidth":1},"encoding":{"y":null}},
 {"data":{"values":[{"e":0}]},"mark":{"type":"rule","color":"#888888","strokeDash":[1,2],"strokeWidth":1},"encoding":{"x":null}},
 {"data":{"name":"c"},"mark":{"type":"line","color":"#6495ED","strokeWidth":2,"interpolate":"monotone","clip":true},"encoding":{"detail":{"field":"b"}}},
 {"data":{"values":[{"k":0.965,"e":1.15,"t":"(c) Δ = 0.2"}]},"mark":{"type":"text","align":"right","baseline":"middle","font":"Liberation Serif","fontSize":20,"color":"#000"},"encoding":{"text":{"field":"t"}}}
]},
{"width":196,"height":210,"encoding":{
  "x":{"field":"k","type":"quantitative","scale":{"domain":[0,1],"nice":false},"axis":null},
  "y":{"field":"e","type":"quantitative","scale":{"domain":[-6,6],"nice":false},"axis":{"labels":false,"ticks":false,"grid":false,"title":null,"domainColor":"#000"}}},
 "layer":[
 {"data":{"values":[{"k":0.4227},{"k":0.7887}]},"mark":{"type":"rule","color":"#c6e6e2","strokeWidth":1},"encoding":{"y":null}},
 {"data":{"values":[{"e":0}]},"mark":{"type":"rule","color":"#888888","strokeDash":[1,2],"strokeWidth":1},"encoding":{"x":null}},
 {"data":{"name":"d"},"mark":{"type":"line","color":"#6495ED","strokeWidth":2,"interpolate":"monotone","clip":true},"encoding":{"detail":{"field":"b"}}},
 {"data":{"values":[{"k":0.965,"e":1.15,"t":"(d) Δ = 0.3"}]},"mark":{"type":"text","align":"right","baseline":"middle","font":"Liberation Serif","fontSize":20,"color":"#000"},"encoding":{"text":{"field":"t"}}}
]},
{"width":196,"height":210,"encoding":{
  "x":{"field":"k","type":"quantitative","scale":{"domain":[0,1],"nice":false},"axis":{"values":[0,0.4227,0.7887],"labelExpr":"datum.value < 0.2 ? 'K' : datum.value < 0.6 ? 'Γ' : datum.value < 0.9 ? 'M' : 'K'","title":null,"grid":false,"ticks":false,"domain":false,"labelFont":"Liberation Serif","labelFontSize":19,"labelColor":"#000","labelPadding":7,"labelFlush":false,"labelOverlap":false,"labelBound":false}},
  "y":{"field":"e","type":"quantitative","scale":{"domain":[-6,6],"nice":false},"axis":{"values":[6,4,2,0,-2,-4,-6],"title":"E-EF (eV)","grid":false,"ticks":false,"domainColor":"#a0a0a0","labelFont":"Liberation Serif","labelFontSize":17,"labelColor":"#000","labelPadding":10,"labelFlush":false,"labelOverlap":false,"labelBound":false,"titleFont":"Liberation Serif","titleFontSize":19,"titleFontWeight":"normal","titleColor":"#000","titlePadding":7}}},
 "layer":[
 {"data":{"values":[{"k":0.4227},{"k":0.7887}]},"mark":{"type":"rule","color":"#c6e6e2","strokeWidth":1},"encoding":{"y":null}},
 {"data":{"values":[{"e":0}]},"mark":{"type":"rule","color":"#888888","strokeDash":[1,2],"strokeWidth":1},"encoding":{"x":null}},
 {"data":{"name":"e"},"mark":{"type":"line","color":"#6495ED","strokeWidth":2,"interpolate":"monotone","clip":true},"encoding":{"detail":{"field":"b"}}},
 {"data":{"values":[{"k":0.965,"e":1.15,"t":"(e) Δ = 0.4"}]},"mark":{"type":"text","align":"right","baseline":"middle","font":"Liberation Serif","fontSize":20,"color":"#000"},"encoding":{"text":{"field":"t"}}}
]},
{"width":196,"height":210,"encoding":{
  "x":{"field":"k","type":"quantitative","scale":{"domain":[0,1],"nice":false},"axis":{"values":[0,0.4227,0.7887],"labelExpr":"datum.value < 0.2 ? 'K' : datum.value < 0.6 ? 'Γ' : datum.value < 0.9 ? 'M' : 'K'","title":null,"grid":false,"ticks":false,"domain":false,"labelFont":"Liberation Serif","labelFontSize":19,"labelColor":"#000","labelPadding":7,"labelFlush":false,"labelOverlap":false,"labelBound":false}},
  "y":{"field":"e","type":"quantitative","scale":{"domain":[-6,6],"nice":false},"axis":null}},
 "layer":[
 {"data":{"values":[{"k":0.4227},{"k":0.7887}]},"mark":{"type":"rule","color":"#c6e6e2","strokeWidth":1},"encoding":{"y":null}},
 {"data":{"values":[{"e":0}]},"mark":{"type":"rule","color":"#888888","strokeDash":[1,2],"strokeWidth":1},"encoding":{"x":null}},
 {"data":{"name":"f"},"mark":{"type":"line","color":"#6495ED","strokeWidth":2,"interpolate":"monotone","clip":true},"encoding":{"detail":{"field":"b"}}},
 {"data":{"values":[{"k":0.965,"e":1.15,"t":"(f) Δ = 0.5"}]},"mark":{"type":"text","align":"right","baseline":"middle","font":"Liberation Serif","fontSize":20,"color":"#000"},"encoding":{"text":{"field":"t"}}}
]},
{"width":196,"height":210,"encoding":{
  "x":{"field":"k","type":"quantitative","scale":{"domain":[0,1],"nice":false},"axis":{"values":[0,0.4227,0.7887,1],"labelExpr":"datum.value < 0.2 ? 'K' : datum.value < 0.6 ? 'Γ' : datum.value < 0.9 ? 'M' : 'K'","title":null,"grid":false,"ticks":false,"domain":false,"labelFont":"Liberation Serif","labelFontSize":19,"labelColor":"#000","labelPadding":7,"labelFlush":false,"labelOverlap":false,"labelBound":false}},
  "y":{"field":"e","type":"quantitative","scale":{"domain":[-6,6],"nice":false},"axis":{"labels":false,"ticks":false,"grid":false,"title":null,"domainColor":"#000"}}},
 "layer":[
 {"data":{"values":[{"k":0.4227},{"k":0.7887}]},"mark":{"type":"rule","color":"#c6e6e2","strokeWidth":1},"encoding":{"y":null}},
 {"data":{"values":[{"e":0}]},"mark":{"type":"rule","color":"#888888","strokeDash":[1,2],"strokeWidth":1},"encoding":{"x":null}},
 {"data":{"name":"g"},"mark":{"type":"line","color":"#6495ED","strokeWidth":2,"interpolate":"monotone","clip":true},"encoding":{"detail":{"field":"b"}}},
 {"data":{"values":[{"k":0.965,"e":1.15,"t":"(g) Δ = 0.6"}]},"mark":{"type":"text","align":"right","baseline":"middle","font":"Liberation Serif","fontSize":20,"color":"#000"},"encoding":{"text":{"field":"t"}}}
]}
]
}
